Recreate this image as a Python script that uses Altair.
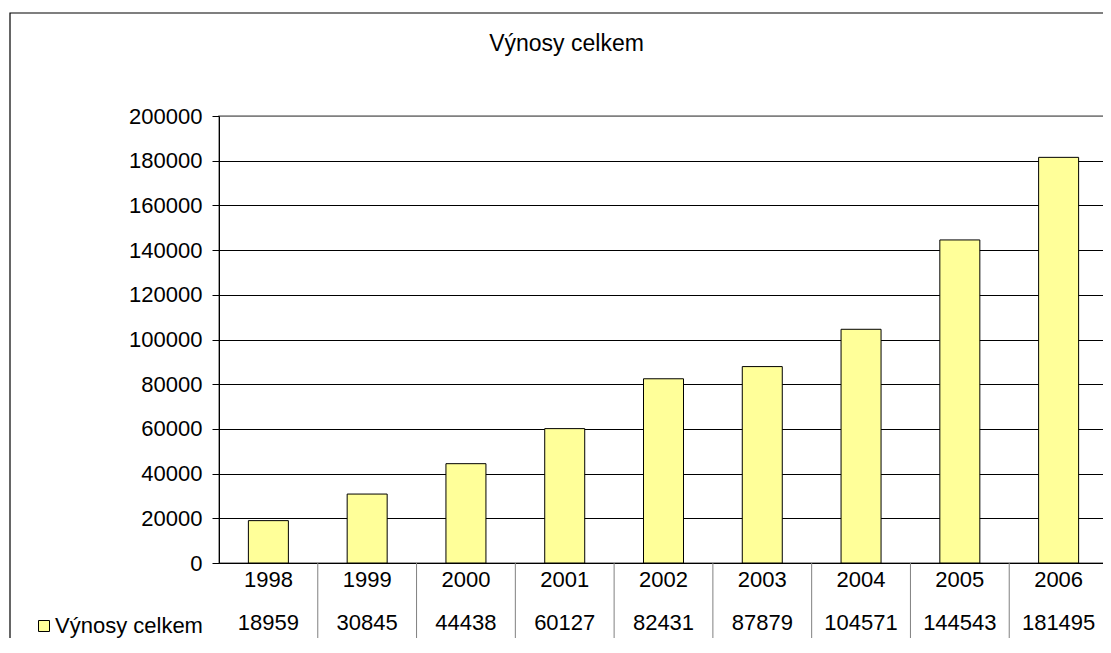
import altair as alt
import pandas as pd

years = ["1998", "1999", "2000", "2001", "2002", "2003", "2004", "2005", "2006"]
values = [18959, 30845, 44438, 60127, 82431, 87879, 104571, 144543, 181495]
series_name = "Výnosy celkem"
title_text = "Výnosy celkem"
y_ticks = [0, 20000, 40000, 60000, 80000, 100000, 120000, 140000, 160000, 180000, 200000]

df = pd.DataFrame({"year": years, "value": values, "series": [series_name] * len(years)})

FONT = "Liberation Sans"
FS = 22
W, H = 889, 447

xscale = alt.Scale(paddingInner=0, paddingOuter=0)

bars = alt.Chart(df).mark_bar(size=40, stroke="black", strokeWidth=1).encode(
    x=alt.X("year:N", scale=xscale, sort=years,
            axis=alt.Axis(title=None, ticks=False, domainColor="black", labelAngle=0,
                          labelAlign="center", bandPosition=0.5,
                          labelFontSize=FS, labelColor="black", labelPadding=16, grid=False)),
    y=alt.Y("value:Q", scale=alt.Scale(domain=[0, 200000], nice=False),
            axis=alt.Axis(title=None, values=y_ticks, format="d", labelFontSize=FS,
                          labelColor="black", tickColor="black", tickSize=7, labelPadding=10,
                          domainColor="black",
                          gridColor={"condition": {"test": "datum.value === 200000", "value": "#808080"},
                                     "value": "black"},
                          gridOpacity=1, gridWidth=1)),
    color=alt.Color("series:N", scale=alt.Scale(range=["#FFFF99"]),
                    legend=alt.Legend(title=None, orient="none", legendX=-186, legendY=499,
                                      symbolType="square", symbolSize=121, symbolStrokeColor="black",
                                      symbolStrokeWidth=1, symbolFillColor="#FFFF99",
                                      labelFontSize=FS, labelColor="black", labelOffset=0,
                                      padding=0, labelFont=FONT)),
)

value_row = alt.Chart(df).mark_text(fontSize=FS, font=FONT, color="black", baseline="middle").encode(
    x=alt.X("year:N", sort=years),
    y=alt.value(H + 60),
    text=alt.Text("value:Q", format="d"),
)

seps = alt.Chart(df).transform_filter("datum.year !== '1998'").mark_rule(color="#808080", strokeWidth=1).encode(
    x=alt.X("year:N", sort=years, bandPosition=0),
    y=alt.value(H),
    y2=alt.value(H + 79),
)

title_df = pd.DataFrame({"t": [title_text]})
title = alt.Chart(title_df).mark_text(fontSize=23, font=FONT, color="black", baseline="alphabetic",
                                      align="center").encode(
    x=alt.value(347.5), y=alt.value(-65), text="t:N")

border = alt.Chart(title_df).mark_rect(fill=None, stroke="black", strokeWidth=1.2).encode(
    x=alt.value(-209), x2=alt.value(1200), y=alt.value(-103), y2=alt.value(800))

chart = alt.layer(border, seps, bars, value_row, title).properties(
    width=W, height=H,
    autosize=alt.AutoSizeParams(type="none"),
    padding={"left": 211, "top": 108, "right": -5, "bottom": 75},
).configure(font=FONT).configure_view(stroke="#808080", strokeWidth=1.5)

chart.save("out.html", embed_options={"renderer": "svg", "actions": False})
